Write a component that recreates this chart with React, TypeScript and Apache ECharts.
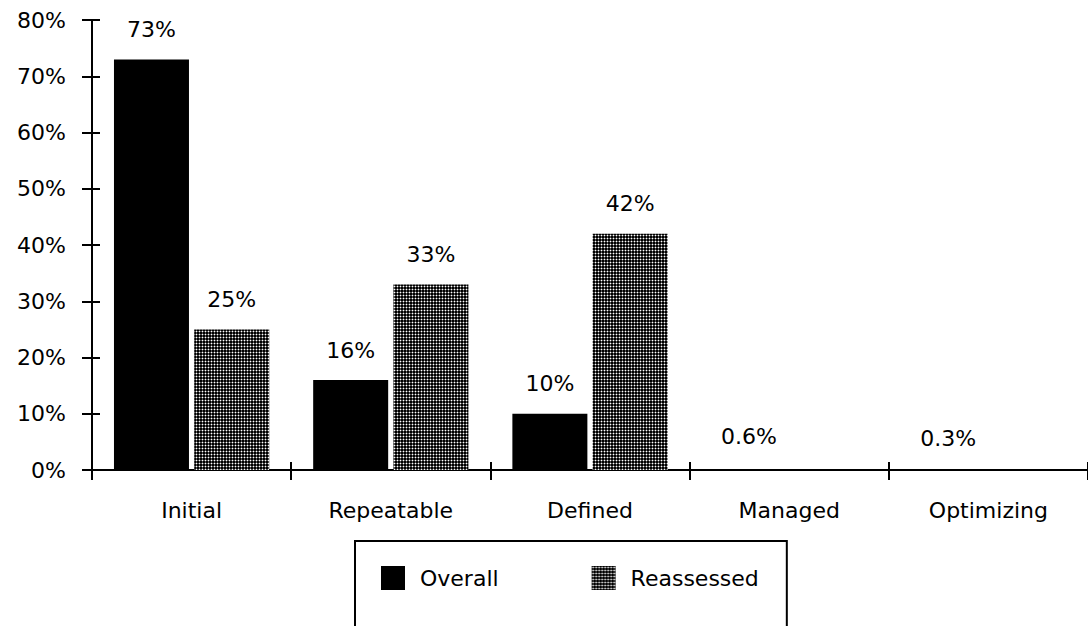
import React, { useEffect, useRef } from "react";
import * as echarts from "echarts";

const categories = ["Initial", "Repeatable", "Defined", "Managed", "Optimizing"];
const overall = [73, 16, 10, 0.6, 0.3];
const reassessed = [25, 33, 42, 0, 0];
const yTicks = [0, 10, 20, 30, 40, 50, 60, 70, 80];

const FONT = "DejaVu Sans";
const FS = 22;

function makePattern(): HTMLCanvasElement {
  const c = document.createElement("canvas");
  c.width = 3;
  c.height = 3;
  const ctx = c.getContext("2d")!;
  ctx.fillStyle = "#555555";
  ctx.fillRect(0, 0, 3, 3);
  ctx.fillStyle = "#000000";
  ctx.fillRect(0, 0, 1, 1);
  ctx.fillRect(2, 0, 1, 1);
  ctx.fillRect(0, 2, 1, 1);
  ctx.fillRect(2, 2, 1, 1);
  ctx.fillStyle = "#ffffff";
  ctx.fillRect(1, 1, 1, 1);
  return c;
}

// bars below 1% are not drawn in the original, only their labels
const barData = (vals: number[]) =>
  vals.map((v) => (v > 0 && v < 1 ? { value: v, itemStyle: { color: "rgba(0,0,0,0)" } } : v));

export default function App() {
  const ref = useRef<HTMLDivElement>(null);
  useEffect(() => {
    if (!ref.current) return;
    const chart = echarts.init(ref.current, undefined, { renderer: "svg" });
    const pattern = { image: makePattern(), repeat: "repeat" };
    const fmt = (p: any) => (p.value === 0 || p.value == null ? "" : p.value + "%");
    const labelStyle = {
      show: true,
      position: "top",
      distance: 19,
      color: "#000",
      fontFamily: FONT,
      fontSize: FS,
      formatter: fmt,
    };
    const tickStyle = { color: "#000", width: 2 };
    chart.setOption({
      animation: false,
      backgroundColor: "#ffffff",
      grid: { left: 92, top: 20, width: 1000, height: 450, containLabel: false },
      legend: {
        left: 355,
        top: 541,
        orient: "horizontal",
        padding: [25, 28, 60, 26],
        itemGap: 93,
        itemWidth: 24,
        itemHeight: 24,
        borderColor: "#000",
        borderWidth: 2,
        selectedMode: false,
        icon: "rect",
        textStyle: { fontFamily: FONT, fontSize: FS, color: "#000", padding: [0, 0, 0, 10] },
        data: ["Overall", "Reassessed"],
      },
      xAxis: [
        {
          type: "category",
          data: categories,
          position: "bottom",
          axisLine: { show: true, lineStyle: { color: "#000", width: 2 } },
          axisTick: { show: true, inside: false, length: 10, lineStyle: tickStyle },
          axisLabel: { color: "#000", fontFamily: FONT, fontSize: FS, margin: 29 },
          splitLine: { show: false },
        },
        {
          type: "category",
          data: categories,
          position: "bottom",
          axisLine: { show: false },
          axisTick: { show: true, inside: true, length: 8, lineStyle: tickStyle },
          axisLabel: { show: false },
          splitLine: { show: false },
        },
      ],
      yAxis: [
        {
          type: "value",
          min: yTicks[0],
          max: yTicks[yTicks.length - 1],
          interval: 10,
          axisLine: { show: true, lineStyle: { color: "#000", width: 2 } },
          axisTick: { show: true, inside: false, length: 10, lineStyle: tickStyle },
          axisLabel: { color: "#000", fontFamily: FONT, fontSize: FS, margin: 26, formatter: "{value}%" },
          splitLine: { show: false },
        },
        {
          type: "value",
          position: "left",
          offset: 0,
          min: yTicks[0],
          max: yTicks[yTicks.length - 1],
          interval: 10,
          axisLine: { show: false },
          axisTick: { show: true, inside: true, length: 8, lineStyle: tickStyle },
          axisLabel: { show: false },
          splitLine: { show: false },
        },
      ],
      series: [
        {
          name: "Overall",
          type: "bar",
          data: barData(overall),
          barWidth: 75,
          barGap: "7%",
          itemStyle: { color: "#000000" },
          label: labelStyle,
        },
        {
          name: "Reassessed",
          type: "bar",
          data: barData(reassessed),
          barWidth: 75,
          barGap: "7%",
          itemStyle: { color: pattern },
          label: labelStyle,
        },
      ],
    });
    return () => chart.dispose();
  }, []);
  return (
    <div
      ref={ref}
      style={{ position: "fixed", left: 0, top: 0, width: 1088, height: 626, background: "#fff" }}
    />
  );
}
